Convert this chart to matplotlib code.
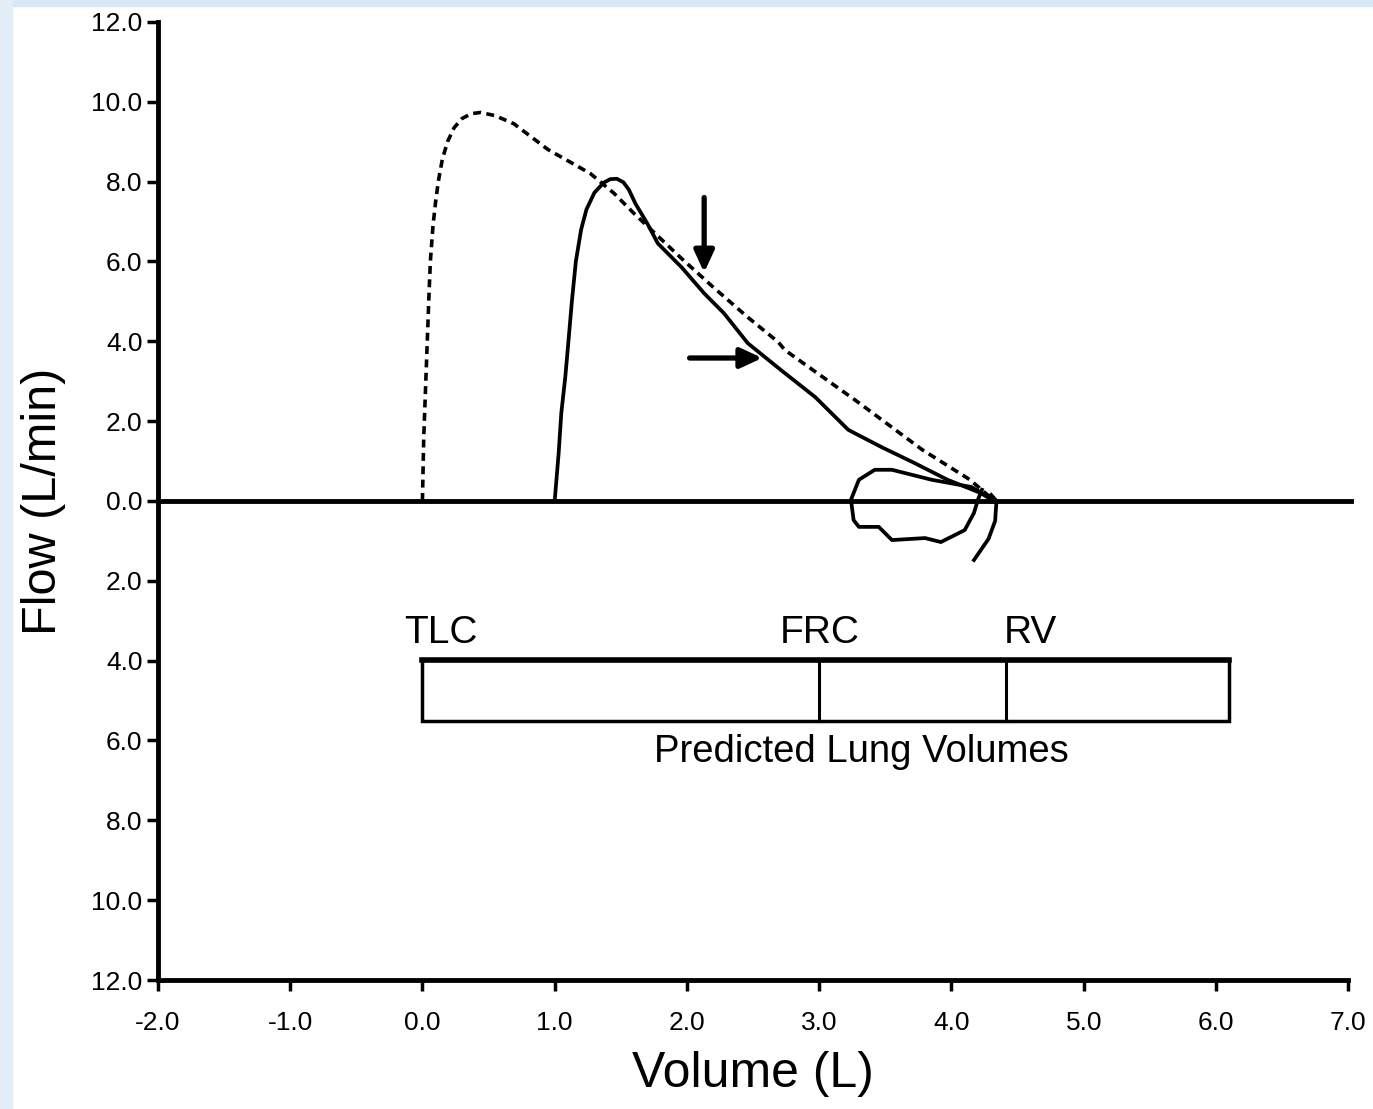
import matplotlib
matplotlib.use("Agg")
import matplotlib.pyplot as plt
from matplotlib.ticker import FuncFormatter
from matplotlib.patches import Rectangle

plt.rcParams['font.family'] = ['Liberation Sans', 'DejaVu Sans']

# Predicted (dashed) flow-volume curve
pred_vol = [0.0, 0.005, 0.01, 0.02, 0.03, 0.04, 0.05, 0.06, 0.08, 0.10, 0.12, 0.15, 0.19, 0.24,
            0.30, 0.37, 0.44, 0.55, 0.69, 0.95, 1.27, 1.45, 1.60, 1.95, 2.20, 2.46, 2.69,
            2.74, 3.27, 3.78, 4.14, 4.29, 4.34]
pred_flow = [0.0, 0.8, 1.6, 2.5, 3.4, 4.3, 5.2, 6.0, 6.9, 7.5, 8.0, 8.55, 9.0, 9.35,
             9.58, 9.70, 9.73, 9.65, 9.45, 8.8, 8.2, 7.7, 7.2, 6.1, 5.35, 4.6, 3.98,
             3.78, 2.53, 1.28, 0.53, 0.1, 0.0]

# Patient (solid) flow-volume curve
pt_vol = [1.0, 1.03, 1.05, 1.08, 1.10, 1.13, 1.16, 1.20, 1.24, 1.30, 1.37, 1.42, 1.47, 1.52,
          1.56, 1.61, 1.70, 1.78, 1.96, 2.13, 2.28, 2.46, 2.71, 2.97, 3.22, 3.47, 3.72,
          3.97, 4.22, 4.32]
pt_flow = [0.0, 1.2, 2.2, 3.1, 3.85, 5.0, 6.0, 6.8, 7.3, 7.72, 7.97, 8.06, 8.07, 7.98,
           7.8, 7.45, 6.95, 6.45, 5.85, 5.2, 4.7, 3.95, 3.28, 2.6, 1.78, 1.35, 0.95,
           0.53, 0.2, 0.0]

# End-expiratory loop
loop_vol = [4.32, 4.15, 3.85, 3.55, 3.42, 3.30, 3.24, 3.26, 3.30, 3.45, 3.55, 3.80, 3.92,
            4.10, 4.17, 4.20, 4.23]
loop_flow = [0.02, 0.35, 0.53, 0.78, 0.78, 0.53, 0.03, -0.48, -0.65, -0.65, -0.98, -0.93,
             -1.03, -0.73, -0.30, 0.03, 0.28]

# Tail
tail_vol = [4.30, 4.34, 4.33, 4.28, 4.17]
tail_flow = [0.15, 0.0, -0.5, -0.95, -1.48]

# Predicted lung volumes
lv_names = ["TLC", "FRC", "RV"]
lv_pos = [0.0, 3.0, 4.41]
lv_end = 6.1

xticks = [-2, -1, 0, 1, 2, 3, 4, 5, 6, 7]
yticks = [-12, -10, -8, -6, -4, -2, 0, 2, 4, 6, 8, 10, 12]

fig = plt.figure(figsize=(13.73, 11.09), dpi=100)
# slide-like light blue border
fig.patches.append(Rectangle((0, 0.995), 1, 0.005, transform=fig.transFigure,
                             color='#d8e7f6', zorder=-1))
fig.patches.append(Rectangle((0, 0), 0.009, 1, transform=fig.transFigure,
                             color='#e3eef9', zorder=-1))

ax = fig.add_axes([0.115, 0.1163, 0.867, 0.8640])
ax.set_xlim(-2, 7)
ax.set_ylim(-12, 12)

ax.axhline(0, xmin=0, xmax=1.002, color='black', lw=3.5, clip_on=False, zorder=2)
ax.plot(pred_vol, pred_flow, color='black', lw=2.6, linestyle=(0, (2.2, 1.5)), zorder=3)
ax.plot(pt_vol, pt_flow, color='black', lw=2.7, zorder=4, solid_joinstyle='round')
ax.plot(loop_vol, loop_flow, color='black', lw=2.7, zorder=4, solid_joinstyle='round')
ax.plot(tail_vol, tail_flow, color='black', lw=2.7, zorder=4, solid_joinstyle='round')

# arrows
astyle = '-|>,head_length=1.3,head_width=0.6'
ax.annotate('', xy=(2.13, 5.72), xytext=(2.13, 7.6),
            arrowprops=dict(arrowstyle=astyle, color='black', lw=3.8, shrinkA=0, shrinkB=0))
ax.annotate('', xy=(2.57, 3.58), xytext=(2.02, 3.58),
            arrowprops=dict(arrowstyle=astyle, color='black', lw=3.8, shrinkA=0, shrinkB=0))

# lung volume bar
ybot, ytop = -5.5, -3.98
ax.add_patch(Rectangle((lv_pos[0], ybot), lv_end - lv_pos[0], ytop - ybot,
                       fill=False, edgecolor='black', lw=2.5, zorder=3))
ax.plot([lv_pos[0], lv_end], [ytop, ytop], color='black', lw=4, zorder=3)
for p in lv_pos[1:]:
    ax.plot([p, p], [ybot, ytop], color='black', lw=2.2, zorder=3)
label_x = [0.14, 3.0, 4.6]
for name, lx in zip(lv_names, label_x):
    ax.text(lx, -3.3, name, ha='center', va='center', fontsize=28)
ax.text(3.32, -6.3, "Predicted Lung Volumes", ha='center', va='center', fontsize=27.5)

# axes styling
for s in ['top', 'right']:
    ax.spines[s].set_visible(False)
ax.spines['left'].set_linewidth(3.5)
ax.spines['bottom'].set_linewidth(3.5)
ax.set_xticks(xticks)
ax.set_yticks(yticks)
ax.xaxis.set_major_formatter(FuncFormatter(lambda v, p: f"{v:.1f}"))
ax.yaxis.set_major_formatter(FuncFormatter(lambda v, p: f"{abs(v):.1f}"))
ax.tick_params(axis='both', direction='out', width=2.5, length=8, labelsize=19)
ax.tick_params(axis='x', pad=14)
ax.tick_params(axis='y', pad=3)

ax.set_xlabel("Volume (L)", fontsize=36, labelpad=12)
ax.set_ylabel("Flow (L/min)", fontsize=35, labelpad=18)

fig.savefig("out.png", dpi=100, facecolor='white')
